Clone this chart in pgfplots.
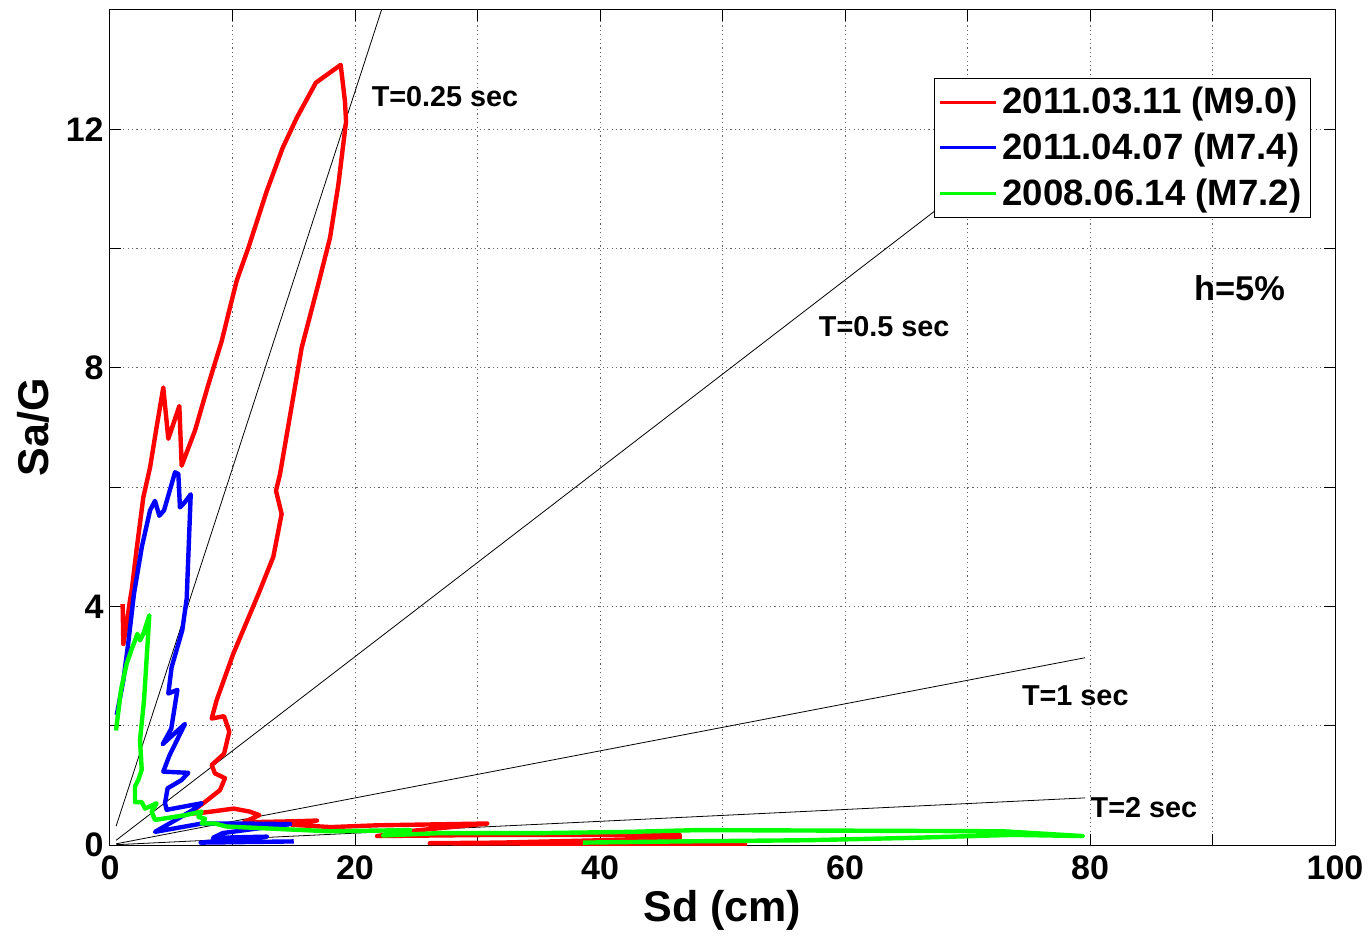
\documentclass[border=0pt]{standalone}
\usepackage{fontspec}
\setmainfont{Liberation Sans}
\usepackage{pgfplots}
\pgfplotsset{compat=1.18}

\begin{document}
\begin{tikzpicture}
\begin{axis}[
  scale only axis,
  width=612.5pt, height=417.5pt,
  xmin=0, xmax=100, ymin=0, ymax=14,
  xtick={0,10,...,100},
  xticklabels={0,,20,,40,,60,,80,,100},
  ytick={0,2,...,14},
  yticklabels={0,,4,,8,,12,,},
  tick pos=both,
  tick align=inside,
  major tick length=5.5pt,
  tick style={black, line width=0.5pt},
  axis line style={black, line width=0.5pt},
  grid=major,
  major grid style={black!60, line width=0.5pt, dash pattern=on 0.6pt off 1.6pt},
  /pgf/number format/assume math mode=true,
  ticklabel style={font=\fontsize{17}{20}\selectfont\bfseries},
  xticklabel style={inner ysep=5pt},
  yticklabel style={inner xsep=3pt},
  xlabel={Sd (cm)},
  ylabel={Sa/G},
  label style={font=\fontsize{21.5}{25}\selectfont\bfseries},
  xlabel style={at={(axis description cs:0.5,-0.0778)}, anchor=center},
  ylabel style={at={(axis description cs:-0.0629,0.5)}, anchor=center},
  legend style={at={(0.9804,0.9186)}, anchor=north east, draw=black, fill=white,
    line width=0.5pt,
    font=\fontsize{18.3}{21}\selectfont\bfseries,
    inner xsep=2pt, inner ysep=2.5pt, row sep=4pt,
    nodes={inner xsep=2.5pt, inner ysep=2pt}},
  legend cell align=left,
  legend image code/.code={\draw[#1, line width=1.7pt] (0pt,0pt) -- (28pt,0pt);},
]

% constant-period lines, Sa = (2*pi/T)^2 * Sd
\addplot[black, line width=0.4pt, forget plot] coordinates {(0.5,0.316) (80,50.53)};
\addplot[black, line width=0.4pt, forget plot] coordinates {(0.5,0.079) (80,12.63)};
\addplot[black, line width=0.4pt, forget plot] coordinates {(0.5,0.020) (79.6,3.14)};
\addplot[black, line width=0.4pt, forget plot] coordinates {(0.5,0.005) (79.6,0.79)};

% 2011.03.11 (M9.0)
\addplot[red, line width=2.2pt, line join=round] coordinates {
(1.03,4.04) (1.09,3.37) (1.36,3.71) (1.63,4.10) (1.77,4.27) (2.2,5.0)
(2.72,5.83) (3.27,6.33) (3.8,7.0) (4.35,7.67) (4.76,6.81) (5.66,7.36)
(5.85,6.36) (6.94,6.95) (8.0,7.7) (9.12,8.45) (9.66,8.90) (10.34,9.46)
(11.29,10.01) (12.79,10.96) (14.1,11.69) (15.24,12.19) (16.8,12.78)
(18.83,13.08) (19.18,12.47) (19.27,12.13) (18.64,11.07) (17.96,10.18)
(17.0,9.40) (15.65,8.34) (13.88,6.22) (13.55,5.94) (14.01,5.55)
(13.33,4.83) (12.1,4.2) (10.07,3.21) (8.71,2.43) (8.30,2.12) (9.31,2.16)
(9.74,1.90) (9.31,1.53) (8.30,1.34) (8.57,1.20) (9.39,1.12) (8.98,0.92)
(7.62,0.70) (6.4,0.52) (7.9,0.55) (10.1,0.61) (11.4,0.56) (12.2,0.50)
(10.9,0.38) (15.5,0.40) (16.9,0.41) (14.8,0.34) (18.0,0.30) (21.8,0.33)
(30.8,0.36) (24.8,0.24) (21.8,0.15) (31.8,0.17) (46.5,0.17) (46.5,0.11)
(31.8,0.04) (26.1,0.03) (52.0,0.01)
};
\addlegendentry{2011.03.11 (M9.0)}

% 2011.04.07 (M7.4)
\addplot[blue, line width=2.2pt, line join=round] coordinates {
(0.55,2.18) (1.09,2.76) (1.5,3.4) (1.95,4.2) (2.6,5.0) (3.27,5.61)
(3.67,5.77) (4.03,5.52) (4.41,5.61) (5.31,6.25) (5.58,6.22) (5.71,5.66)
(6.12,5.75) (6.59,5.88) (6.26,4.13) (5.9,3.6) (5.03,2.98) (4.76,2.54)
(5.50,2.60) (5.0,1.95) (4.30,1.69) (6.12,2.03) (4.85,1.50) (4.35,1.23)
(6.39,1.21) (5.85,1.09) (4.7,0.95) (4.49,0.70) (4.63,0.59) (7.48,0.70)
(6.8,0.59) (3.67,0.22) (7.5,0.36) (10.6,0.36) (14.7,0.35) (9.2,0.20)
(8.4,0.12) (12.8,0.14) (7.4,0.04) (15.0,0.06)
};
\addlegendentry{2011.04.07 (M7.4)}

% 2008.06.14 (M7.2)
\addplot[green, line width=2.2pt, line join=round] coordinates {
(0.49,1.92) (0.9,2.6) (1.36,3.04) (1.8,3.3) (2.04,3.43) (2.23,3.54)
(2.45,3.43) (2.72,3.54) (3.21,3.85) (2.78,2.43) (2.45,1.76) (2.59,1.26)
(2.31,1.09) (2.04,0.98) (2.04,0.72) (2.59,0.72) (2.86,0.61) (3.81,0.70)
(3.40,0.56) (3.67,0.42) (6.12,0.50) (7.48,0.56) (7.21,0.47) (7.76,0.44)
(7.48,0.36) (8.57,0.36) (9.5,0.31) (14.7,0.26) (17.96,0.23) (24.5,0.25)
(22.3,0.16) (27.0,0.20) (35.4,0.20) (42.4,0.22) (48.0,0.25) (72.9,0.23)
(79.4,0.15) (73.7,0.17) (65.5,0.12) (56.9,0.08) (46.5,0.06) (38.6,0.04)
};
\addlegendentry{2008.06.14 (M7.2)}

\node[font=\fontsize{14.4}{17}\selectfont\bfseries] at (axis cs:27.35,12.55) {T=0.25 sec};
\node[font=\fontsize{14.4}{17}\selectfont\bfseries] at (axis cs:63.2,8.70) {T=0.5 sec};
\node[font=\fontsize{14.4}{17}\selectfont\bfseries] at (axis cs:78.8,2.51) {T=1 sec};
\node[font=\fontsize{14.4}{17}\selectfont\bfseries] at (axis cs:84.4,0.62) {T=2 sec};
\node[font=\fontsize{17.2}{20}\selectfont\bfseries] at (axis cs:92.2,9.34) {h=5\%};
\end{axis}
\pgfresetboundingbox
\path (-55pt,-45.5pt) rectangle (629.5pt,422.5pt);
\end{tikzpicture}
\end{document}
